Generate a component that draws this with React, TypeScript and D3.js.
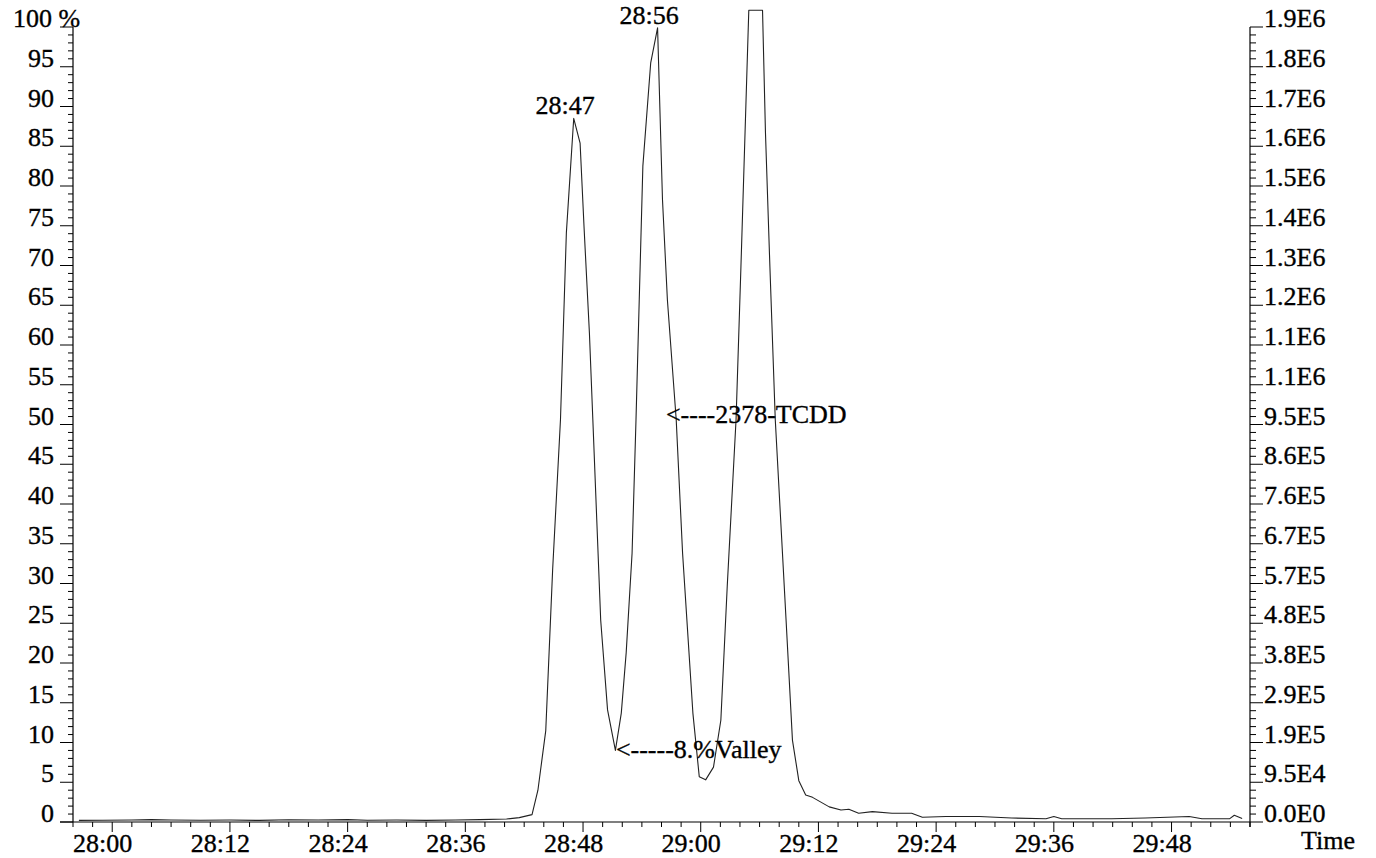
import React from "react";
import * as d3 from "d3";

// retention time in seconds after 28:00, relative intensity in %
const timeSec = [
  -3.4, -1, 2, 4, 6, 9, 12, 15, 18, 21, 24, 26, 29, 32, 35, 37.5, 40.2, 41.5, 42.8, 43.4,
  44.2, 44.9, 45.7, 46.3, 47.05, 47.7, 48.1, 48.65, 49.0, 49.4, 49.8, 50.5, 51.3, 51.9,
  52.4, 53.0, 53.4, 54.1, 54.9, 55.6, 56.1, 56.6, 57.5, 58.15, 59.2, 59.85, 60.5, 61.3,
  62.05, 62.7, 63.6, 64.1, 64.9, 66.3, 66.6, 67.05, 67.6, 68.7, 69.35, 70.0, 70.7, 71.4,
  73.1, 74.3, 75.1, 76.1, 77.5, 79.5, 81.5, 82.6, 85.0, 88.4, 91.7, 95.2, 96.0, 96.8,
  101.9, 105.3, 109.8, 111.1, 113.9, 114.4, 115.2,
];
const intensityPct = [
  0.2, 0.22, 0.25, 0.3, 0.25, 0.22, 0.25, 0.2, 0.28, 0.25, 0.3, 0.22, 0.25, 0.2, 0.25, 0.3, 0.38, 0.55, 0.93, 4.0,
  11.5, 31.7, 50.6, 74.1, 88.5, 85.4, 74.9, 61.5, 50.6, 38.0, 25.4, 14.1, 9.0, 13.7,
  21.3, 33.8, 50.6, 82.5, 95.5, 99.9, 78.3, 65.7, 50.6, 33.8, 13.7, 5.7, 5.3, 6.9,
  12.8, 29.6, 50.6, 69.9, 102.1, 102.1, 86.7, 69.9, 50.6, 25.4, 10.3, 5.2, 3.4, 3.1,
  1.9, 1.5, 1.6, 1.1, 1.3, 1.1, 1.1, 0.6, 0.7, 0.7, 0.5, 0.4, 0.7, 0.4,
  0.4, 0.5, 0.7, 0.4, 0.4, 0.85, 0.45,
];

const xMajorTicks = [0, 12, 24, 36, 48, 60, 72, 84, 96, 108];
const xTickLabels = ["28:00", "28:12", "28:24", "28:36", "28:48", "29:00", "29:12", "29:24", "29:36", "29:48"];
const yMajorTicks = [0, 5, 10, 15, 20, 25, 30, 35, 40, 45, 50, 55, 60, 65, 70, 75, 80, 85, 90, 95, 100];
const leftTickLabels = ["0", "5", "10", "15", "20", "25", "30", "35", "40", "45", "50", "55", "60", "65", "70", "75", "80", "85", "90", "95", "100 %"];
const rightTickLabels = [
  "0.0E0", "9.5E4", "1.9E5", "2.9E5", "3.8E5", "4.8E5", "5.7E5", "6.7E5", "7.6E5", "8.6E5", "9.5E5",
  "1.1E6", "1.1E6", "1.2E6", "1.3E6", "1.4E6", "1.5E6", "1.6E6", "1.7E6", "1.8E6", "1.9E6",
];
const peakLabels = ["28:47", "28:56"];
const peakTimes = [47.05, 55.6];
const peakPct = [88.5, 99.9];
const noteTexts = ["<----2378-TCDD", "<-----8.%Valley"];
const noteTimes = [56.45, 51.35];
const notePct = [50.15, 8.0];

const W = 1376;
const H = 858;
const FONT = "'Liberation Serif', 'Times New Roman', serif";
const FS = 26;
const INK = "#000";

export default function App() {
  const x = d3.scaleLinear().domain([-4, 116]).range([73, 1250]);
  const y = d3.scaleLinear().domain([0, 100]).range([822, 27]);
  const pts = timeSec.map((t, i) => [t, intensityPct[i]] as [number, number]);
  const line = d3
    .line<[number, number]>()
    .x((d) => x(d[0]))
    .y((d) => y(d[1]))
    .curve(d3.curveLinear);

  const xMinor = d3.range(-4, 116.01, 2);
  const yMinor = d3.range(0, 100.01, 1);
  const x0 = x(-4);
  const x1 = x(116);
  const y0 = y(0);
  const y1 = y(100);
  const textStyle = { stroke: INK, strokeWidth: 0.35 };

  return (
    <svg
      width={W}
      height={H}
      style={{ position: "absolute", left: 0, top: 0, background: "#fff" }}
      fontFamily={FONT}
      fontSize={FS}
    >
      <rect x={0} y={0} width={W} height={H} fill="#fff" />
      {/* axes lines */}
      <line x1={x0} x2={x0} y1={y1} y2={y0} stroke={INK} strokeWidth={1.2} />
      <line x1={x1} x2={x1} y1={y1} y2={y0 + 5} stroke={INK} strokeWidth={1.2} />
      <line x1={x0 - 13} x2={x1} y1={y0} y2={y0} stroke={INK} strokeWidth={1.2} />

      {/* left & right minor/major ticks */}
      {yMinor.map((v) => {
        const major = Math.abs(v % 5) < 1e-6;
        return (
          <g key={"yt" + v}>
            <line x1={x0 - (major ? 13 : 5)} x2={x0} y1={y(v)} y2={y(v)} stroke={INK} strokeWidth={1} />
            <line x1={x1} x2={x1 + (major ? 13 : 6)} y1={y(v)} y2={y(v)} stroke={INK} strokeWidth={1} />
          </g>
        );
      })}
      {yMajorTicks.map((v, i) =>
        i === yMajorTicks.length - 1 ? (
          <text key={"yl" + v} x={13} y={y(v)} fill={INK} {...textStyle}>
            {leftTickLabels[i]}
          </text>
        ) : (
          <text key={"yl" + v} x={54} y={y(v)} textAnchor="end" fill={INK} {...textStyle}>
            {leftTickLabels[i]}
          </text>
        )
      )}
      {yMajorTicks.map((v, i) => (
        <text key={"yr" + v} x={1264} y={y(v)} fill={INK} {...textStyle}>
          {rightTickLabels[i]}
        </text>
      ))}

      {/* x ticks */}
      {xMinor.map((t) => {
        const major = xMajorTicks.includes(t);
        return (
          <line key={"xt" + t} x1={x(t)} x2={x(t)} y1={y0} y2={y0 + (major ? 10 : 5)} stroke={INK} strokeWidth={1} />
        );
      })}
      {xMajorTicks.map((t, i) => (
        <text key={"xl" + t} x={x(t) - 9.5} y={852} textAnchor="middle" fill={INK} {...textStyle}>
          {xTickLabels[i]}
        </text>
      ))}
      <text x={1301} y={848.5} fill={INK} {...textStyle}>
        Time
      </text>

      {/* trace */}
      <path d={line(pts) || ""} fill="none" stroke="#222" strokeWidth={1.1} strokeLinejoin="round" />

      {/* peak labels */}
      {peakLabels.map((s, i) => (
        <text key={s} x={x(peakTimes[i]) - 8.5} y={y(peakPct[i]) - 4} textAnchor="middle" fill={INK} {...textStyle}>
          {s}
        </text>
      ))}
      {noteTexts.map((s, i) => (
        <text key={s} x={x(noteTimes[i])} y={y(notePct[i])} fill={INK} {...textStyle}>
          {s}
        </text>
      ))}
    </svg>
  );
}
